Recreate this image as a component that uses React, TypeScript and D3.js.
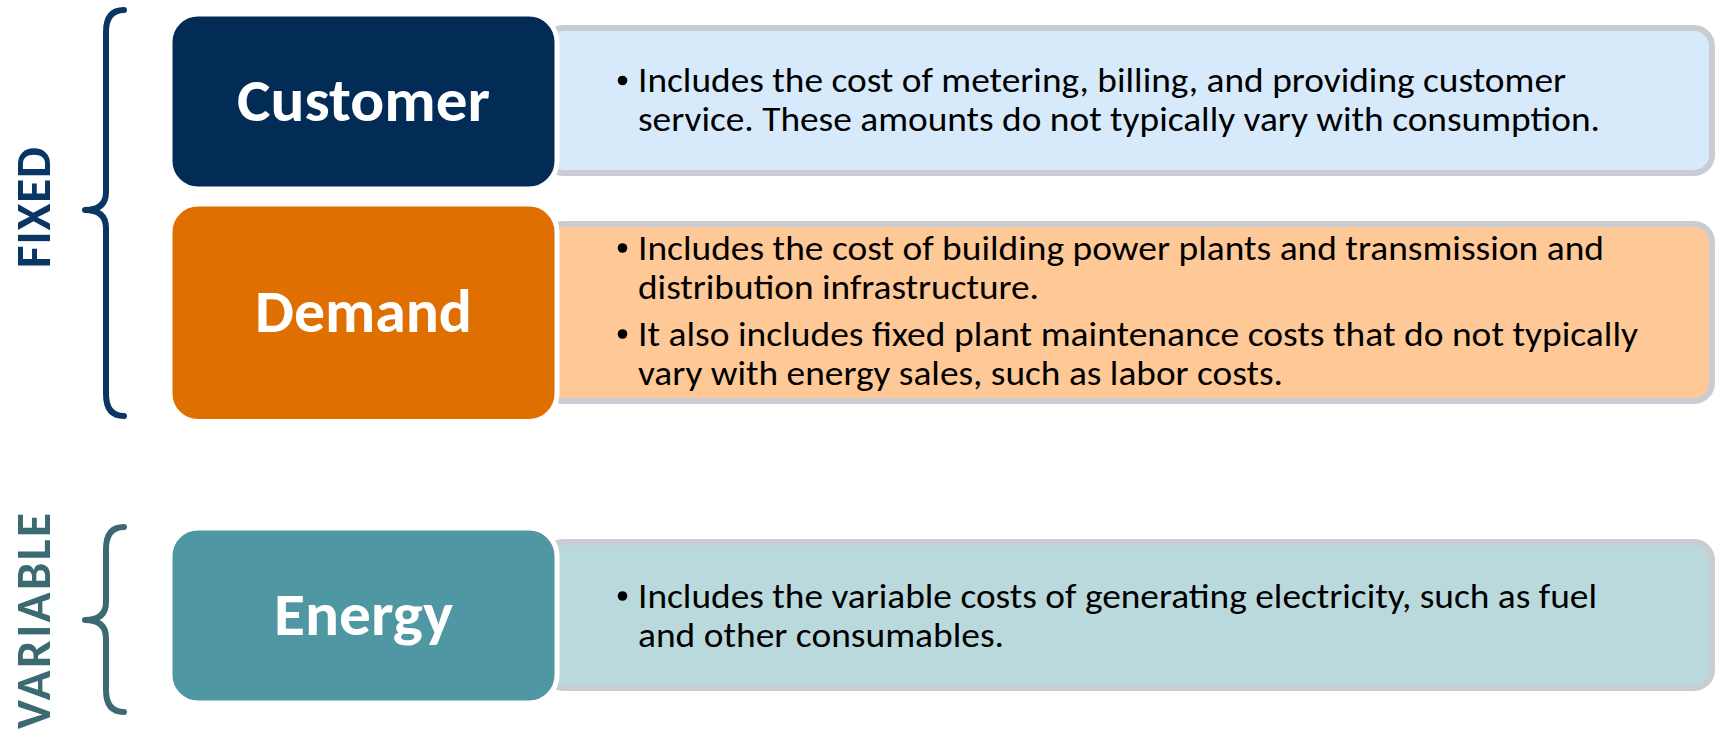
import React from 'react';
import * as d3 from 'd3';

// ---------- data ----------
const categories = ['Customer', 'Demand', 'Energy'];
const groupLabels = ['FIXED', 'VARIABLE'];
const customerBullets = [
  ['Includes the cost of metering, billing, and providing customer', 'service. These amounts do not typically vary with consumption.'],
];
const demandBullets = [
  ['Includes the cost of building power plants and transmission and', 'distribution infrastructure.'],
  ['It also includes fixed plant maintenance costs that do not typically', 'vary with energy sales, such as labor costs.'],
];
const energyBullets = [
  ['Includes the variable costs of generating electricity, such as fuel', 'and other consumables.'],
];
const bulletsByCategory = [customerBullets, demandBullets, energyBullets];

// ---------- layout / style ----------
const W = 1715;
const H = 733;
const FONT = 'Carlito, Calibri, Lato, "Open Sans", sans-serif';

const rowBox = {
  Customer: [14, 189],
  Demand: [204, 421.5],
  Energy: [528, 703],
};
const rowDesc = {
  Customer: [25, 176],
  Demand: [221, 404],
  Energy: [539, 691],
};
const rowTextShift = { Customer: -1, Demand: -2.5, Energy: 0 };
// rendered widths of the text runs (layout)
const lineWidths = {
  Customer: [[928, 962]],
  Demand: [[966, 401], [1000, 645]],
  Energy: [[959, 366]],
};
const labelWidths = { Customer: 253, Demand: 217, Energy: 179 };
const groupTextWidths = [121, 216];

const boxColor = { Customer: '#022B55', Demand: '#DF6F00', Energy: '#4F97A2' };
const descColor = { Customer: '#D7EAFB', Demand: '#FFC997', Energy: '#BAD9DD' };
const groupColor = ['#0A3664', '#3C6A72'];

const xScale = d3.scaleLinear().domain([0, 1]).range([170, 557]); // label box span
const descX0 = 545;
const descX1 = 1712;
const textX = 638;
const bulletX = 622.5;
const capH = 24;
const lineStep = 39;
const paraGap = 8;
const descFont = 35;
const labelFont = 60;

function bracePath(y0: number, ym: number, y1: number) {
  const xe = 124, xl = 106, xt = 85;
  const p = d3.path();
  p.moveTo(xe, y0);
  p.quadraticCurveTo(xl, y0, xl, y0 + 22);
  p.lineTo(xl, ym - 18);
  p.quadraticCurveTo(xl, ym, xt, ym);
  p.quadraticCurveTo(xl, ym, xl, ym + 18);
  p.lineTo(xl, y1 - 22);
  p.quadraticCurveTo(xl, y1, xe, y1);
  return p.toString();
}

export default function App() {
  const bx0 = xScale(0);
  const bx1 = xScale(1);
  const bcx = (bx0 + bx1) / 2;

  const braceExt = [
    [10, 210, 416],
    [527, 620, 712],
  ];
  const groupTextY = [207.5, 621];

  return (
    <svg
      width={W}
      height={H}
      viewBox={`0 0 ${W} ${H}`}
      style={{ position: 'absolute', left: 0, top: 0, background: '#fff' }}
    >
      {/* description panels */}
      {categories.map((c) => {
        const [t, b] = rowDesc[c];
        return (
          <rect
            key={'d' + c}
            x={descX0}
            y={t + 3}
            width={descX1 - descX0}
            height={b - t - 6}
            rx={18}
            ry={18}
            fill={descColor[c]}
            stroke="#C9CCD2"
            strokeWidth={6}
          />
        );
      })}

      {/* category boxes */}
      {categories.map((c) => {
        const [t, b] = rowBox[c];
        return (
          <g key={'b' + c}>
            <rect
              x={bx0}
              y={t}
              width={bx1 - bx0}
              height={b - t}
              rx={28}
              ry={28}
              fill={boxColor[c]}
              stroke="#fff"
              strokeWidth={5}
            />
            <text
              x={bcx}
              y={(t + b) / 2 + 19}
              textAnchor="middle"
              fill="#fff"
              fontFamily={FONT}
              fontWeight={700}
              fontSize={labelFont}
              textLength={labelWidths[c]}
              lengthAdjust="spacingAndGlyphs"
            >
              {c}
            </text>
          </g>
        );
      })}

      {/* bullet text */}
      {categories.map((c, ci) => {
        const bullets = bulletsByCategory[ci];
        const nLines = d3.sum(bullets, (b) => b.length);
        const total = capH + (nLines - 1) * lineStep + (bullets.length - 1) * paraGap;
        const [t, b] = rowDesc[c];
        const center = (t + b) / 2 + rowTextShift[c];
        let y = center - total / 2 + capH;
        const items: JSX.Element[] = [];
        bullets.forEach((lines, bi) => {
          if (bi > 0) y += paraGap;
          items.push(
            <circle key={`c${c}${bi}`} cx={bulletX} cy={y - 11.5} r={4.8} fill="#000" />
          );
          lines.forEach((ln, li) => {
            items.push(
              <text
                key={`t${c}${bi}${li}`}
                x={textX}
                y={y}
                fontFamily={FONT}
                fontSize={descFont}
                fill="#000"
                textLength={lineWidths[c][bi][li]}
                lengthAdjust="spacingAndGlyphs"
              >
                {ln}
              </text>
            );
            y += lineStep;
          });
        });
        return <g key={'t' + c}>{items}</g>;
      })}

      {/* braces and group labels */}
      {groupLabels.map((g, gi) => {
        const [y0, ym, y1] = braceExt[gi];
        return (
          <g key={'g' + g}>
            <path
              d={bracePath(y0, ym, y1)}
              fill="none"
              stroke={groupColor[gi]}
              strokeWidth={6}
              strokeLinecap="round"
              strokeLinejoin="round"
            />
            <text
              transform={`translate(50, ${groupTextY[gi]}) rotate(-90)`}
              textAnchor="middle"
              fill={groupColor[gi]}
              fontFamily={FONT}
              fontWeight={700}
              fontSize={49}
              textLength={groupTextWidths[gi]}
              lengthAdjust="spacing"
            >
              {g}
            </text>
          </g>
        );
      })}
    </svg>
  );
}
